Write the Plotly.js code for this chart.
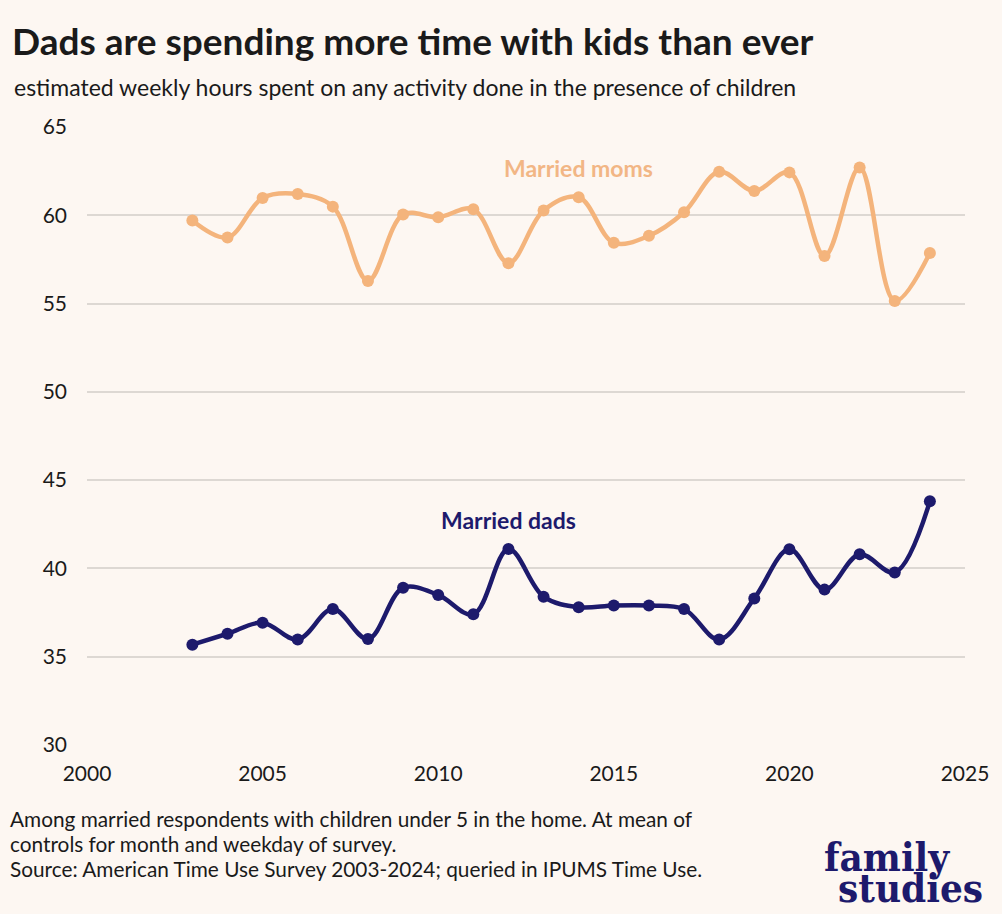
<!DOCTYPE html>
<html>
<head>
<meta charset="utf-8">
<script src="https://cdn.plot.ly/plotly-3.0.1.min.js"></script>
<style>
  html, body { margin: 0; padding: 0; background: #fdf7f2; }
  #grafico { width: 1002px; height: 914px; }
</style>
</head>
<body>
<div id="grafico"></div>
<script>
/* =========================================
   DADOS
========================================= */

let anos = [2003, 2004, 2005, 2006, 2007, 2008, 2009, 2010, 2011, 2012, 2013,
            2014, 2015, 2016, 2017, 2018, 2019, 2020, 2021, 2022, 2023, 2024];

let maes = [59.7, 58.74, 60.98, 61.2, 60.49, 56.28, 60.04, 59.89, 60.34, 57.29, 60.27,
            61.02, 58.44, 58.84, 60.17, 62.47, 61.38, 62.43, 57.7, 62.7, 55.15, 57.86];

let pais = [35.68, 36.3, 36.93, 35.97, 37.7, 36.0, 38.9, 38.5, 37.4, 41.1, 38.4,
            37.8, 37.9, 37.9, 37.7, 35.97, 38.3, 41.08, 38.8, 40.8, 39.77, 43.8];

let ticksX = [2000, 2005, 2010, 2015, 2020, 2025];
let ticksY = [30, 35, 40, 45, 50, 55, 60, 65];

let corMaes = "#f4b47c";
let corPais = "#1d1a6c";
let fundo = "#fdf7f2";

/* =========================================
   GRÁFICO
========================================= */

let trace1 = {
    x: anos,
    y: maes,
    mode: "lines+markers",
    name: "Married moms",
    line: { color: corMaes, width: 4.5, shape: "spline", smoothing: 1 },
    marker: { color: corMaes, size: 12 },
    hoverinfo: "x+y"
};

let trace2 = {
    x: anos,
    y: pais,
    mode: "lines+markers",
    name: "Married dads",
    line: { color: corPais, width: 4.5, shape: "spline", smoothing: 1 },
    marker: { color: corPais, size: 12 },
    hoverinfo: "x+y"
};

// paper coords: plot area is 878 x 618 px starting at (87, 127)
function px(x) { return (x - 87) / 878; }
function py(y) { return (745 - y) / 618; }

let logoFont = { family: "'DejaVu Serif Condensed', 'DejaVu Serif', serif", size: 40, color: corPais };

let layout = {

    width: 1002,
    height: 914,
    paper_bgcolor: fundo,
    plot_bgcolor: fundo,
    showlegend: false,

    font: { family: "Lato, 'Open Sans', sans-serif", color: "#1a1a1a", size: 21 },

    margin: { t: 127, l: 87, r: 37, b: 169 },

    title: {
        text: "<b>Dads are spending more time with kids than ever</b>",
        font: { family: "Lato", size: 37, color: "#1a1a1a" },
        xref: "container",
        yref: "container",
        x: 12 / 1002,
        xanchor: "left",
        y: 1 - 42 / 914,
        yanchor: "middle"
    },

    xaxis: {
        range: [2000, 2025],
        tickvals: ticksX,
        showgrid: false,
        zeroline: false,
        showline: false,
        ticks: "",
        ticklabelstandoff: 14,
        tickfont: { size: 21, color: "#1a1a1a" },
        fixedrange: true
    },

    yaxis: {
        range: [30, 65],
        tickvals: ticksY,
        showgrid: true,
        gridcolor: "#ddd8d3",
        gridwidth: 1.5,
        zeroline: false,
        showline: false,
        ticks: "",
        ticklabelstandoff: 19,
        tickfont: { size: 21, color: "#1a1a1a" },
        fixedrange: true
    },

    annotations: [
        {
            text: "estimated weekly hours spent on any activity done in the presence of children",
            xref: "paper", yref: "paper",
            x: px(12), y: py(87),
            xanchor: "left", yanchor: "middle",
            showarrow: false,
            font: { size: 23, color: "#1a1a1a" }
        },
        {
            text: "<b>Married moms</b>",
            x: 2014, y: 62.67,
            xanchor: "center", yanchor: "middle",
            showarrow: false,
            font: { size: 23, color: "#f2b685" }
        },
        {
            text: "<b>Married dads</b>",
            x: 2012, y: 42.74,
            xanchor: "center", yanchor: "middle",
            showarrow: false,
            font: { size: 23, color: corPais }
        },
        {
            text: "Among married respondents with children under 5 in the home. At mean of",
            xref: "paper", yref: "paper",
            x: px(8), y: py(818),
            xanchor: "left", yanchor: "middle",
            showarrow: false,
            font: { size: 20.8, color: "#1a1a1a" }
        },
        {
            text: "controls for month and weekday of survey.",
            xref: "paper", yref: "paper",
            x: px(8), y: py(843),
            xanchor: "left", yanchor: "middle",
            showarrow: false,
            font: { size: 20.8, color: "#1a1a1a" }
        },
        {
            text: "Source: American Time Use Survey 2003-2024; queried in IPUMS Time Use.",
            xref: "paper", yref: "paper",
            x: px(8), y: py(868),
            xanchor: "left", yanchor: "middle",
            showarrow: false,
            font: { size: 20.8, color: "#1a1a1a" }
        },
        {
            text: "<b>family</b>",
            xref: "paper", yref: "paper",
            x: px(887), y: py(856),
            xanchor: "center", yanchor: "middle",
            showarrow: false,
            font: logoFont
        },
        {
            text: "<b>studies</b>",
            xref: "paper", yref: "paper",
            x: px(910), y: py(887),
            xanchor: "center", yanchor: "middle",
            showarrow: false,
            font: logoFont
        }
    ]
};

Plotly.newPlot(
    "grafico",
    [trace1, trace2],
    layout,
    { displayModeBar: false, responsive: false }
);
</script>
</body>
</html>
